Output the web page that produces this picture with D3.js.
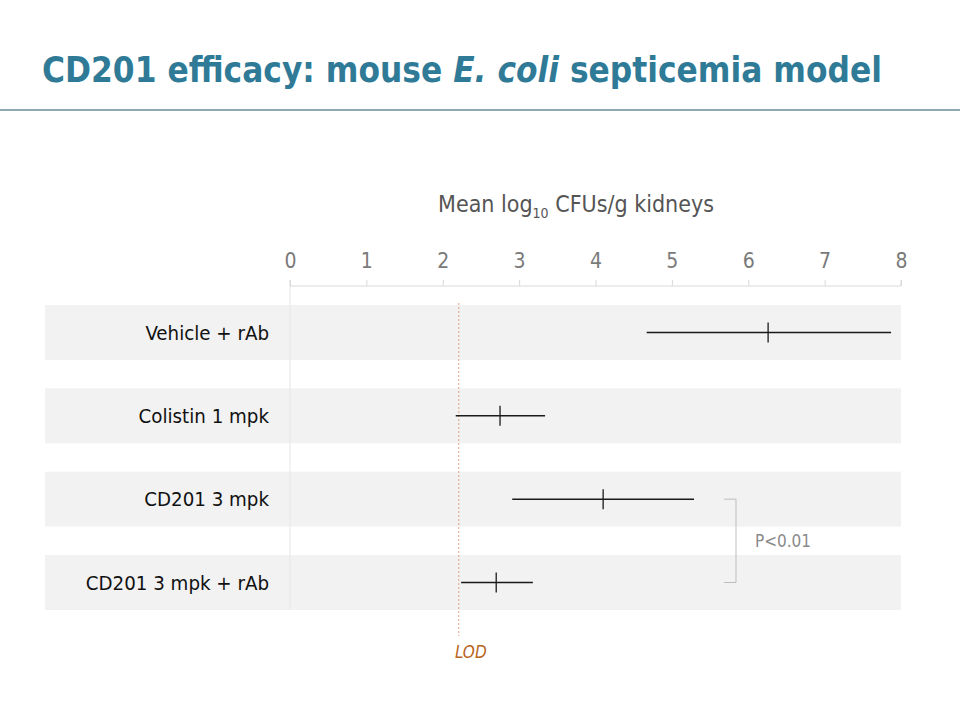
<!DOCTYPE html>
<html><head><meta charset="utf-8">
<script src="https://cdn.jsdelivr.net/npm/d3@7"></script>
<style>body{margin:0;background:#fff;} svg{display:block;}</style>
</head><body>
<svg id="c" width="960" height="720"></svg>
<script>
const categories = ["Vehicle + rAb", "Colistin 1 mpk", "CD201 3 mpk", "CD201 3 mpk + rAb"];
const means = [6.26, 2.75, 4.10, 2.70];
const lows  = [4.67, 2.17, 2.91, 2.24];
const highs = [7.87, 3.34, 5.29, 3.18];
const tickValues = [0, 1, 2, 3, 4, 5, 6, 7, 8];
const lodValue = 2.21;
const pvalueText = "P<0.01";
const pvalueGroups = ["CD201 3 mpk", "CD201 3 mpk + rAb"];

const font = "'DejaVu Sans Condensed', 'DejaVu Sans', sans-serif";
const svg = d3.select("#c");

// Title
const title = svg.append("text").attr("x", 42).attr("y", 82)
  .attr("font-family", font).attr("font-weight", "bold").attr("font-size", 35)
  .attr("fill", "#2f7b97").attr("textLength", 840).attr("lengthAdjust", "spacingAndGlyphs");
title.append("tspan").text("CD201 efficacy: mouse ");
title.append("tspan").attr("font-style", "italic").text("E. coli");
title.append("tspan").text(" septicemia model");
svg.append("line").attr("x1", 0).attr("x2", 960).attr("y1", 110).attr("y2", 110)
  .attr("stroke", "#8ea9b4").attr("stroke-width", 2);

const x = d3.scaleLinear().domain([0, 8]).range([290, 901]);
const y = d3.scaleBand().domain(categories).range([305, 610]).paddingInner(0.34).paddingOuter(0);

// Row bands
svg.selectAll("rect.band").data(categories).join("rect")
  .attr("x", 45).attr("width", 901 - 45)
  .attr("y", d => y(d)).attr("height", y.bandwidth())
  .attr("fill", "#f2f2f2");

// Divider at 0
svg.append("line").attr("x1", x(0)).attr("x2", x(0)).attr("y1", 286).attr("y2", 610)
  .attr("stroke", "#e6e6e6").attr("stroke-width", 1);

// Axis
const axis = d3.axisTop(x).tickValues(tickValues).tickSize(6).tickPadding(12)
  .tickFormat(d3.format("d"));
const ag = svg.append("g").attr("transform", "translate(0,286)").call(axis);
ag.select(".domain").attr("stroke", "#d9d9d9").attr("d", `M${x(0)},-6V0H${x(8)}V-6`);
ag.selectAll(".tick line").attr("stroke", "#d9d9d9");
ag.selectAll(".tick text").attr("font-family", font).attr("font-size", 21).attr("fill", "#7a7a7a");

// Axis title
const at = svg.append("text").attr("x", 576).attr("y", 212).attr("text-anchor", "middle")
  .attr("font-family", font).attr("font-size", 23).attr("fill", "#555");
at.append("tspan").text("Mean log");
at.append("tspan").attr("font-size", 14).attr("dy", 6).text("10");
at.append("tspan").attr("dy", -6).text(" CFUs/g kidneys");

// LOD line
svg.append("line").attr("x1", x(lodValue)).attr("x2", x(lodValue)).attr("y1", 303).attr("y2", 636)
  .attr("stroke", "#e0a27c").attr("stroke-width", 1).attr("stroke-dasharray", "2,2");
svg.append("text").attr("x", x(lodValue) + 12).attr("y", 658).attr("text-anchor", "middle")
  .attr("font-family", font).attr("font-style", "italic").attr("font-size", 17)
  .attr("fill", "#b8651f").text("LOD");

// Row labels
svg.selectAll("text.lab").data(categories).join("text")
  .attr("x", 269).attr("y", d => y(d) + y.bandwidth() / 2 + 7)
  .attr("text-anchor", "end").attr("font-family", font).attr("font-size", 20.3)
  .attr("fill", "#111").text(d => d);

// Error bars
const cy = i => y(categories[i]) + y.bandwidth() / 2;
categories.forEach((c, i) => {
  svg.append("line").attr("x1", x(lows[i])).attr("x2", x(highs[i]))
    .attr("y1", cy(i)).attr("y2", cy(i)).attr("stroke", "#1a1a1a").attr("stroke-width", 1.5);
  svg.append("line").attr("x1", x(means[i])).attr("x2", x(means[i]))
    .attr("y1", cy(i) - 10).attr("y2", cy(i) + 10).attr("stroke", "#1a1a1a").attr("stroke-width", 1.3);
});

// P-value bracket
const ya = y(pvalueGroups[0]) + y.bandwidth() / 2;
const yb = y(pvalueGroups[1]) + y.bandwidth() / 2;
svg.append("path").attr("d", `M724,${ya}H736V${yb}H724`).attr("fill", "none")
  .attr("stroke", "#bdbdbd").attr("stroke-width", 1);
svg.append("text").attr("x", 755).attr("y", (ya + yb) / 2 + 6)
  .attr("font-family", font).attr("font-size", 17).attr("fill", "#8a8a8a").text(pvalueText);
</script>
</body></html>
